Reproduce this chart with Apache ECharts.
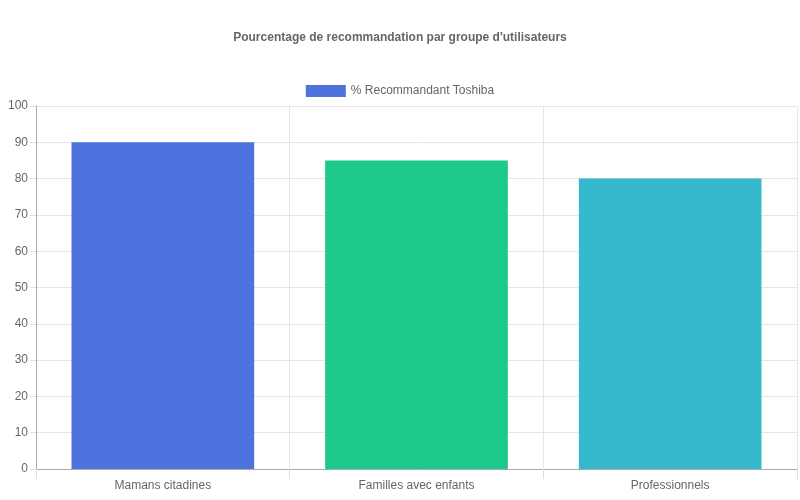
<!DOCTYPE html>
<html>
<head>
<meta charset="utf-8">
<script src="https://cdn.jsdelivr.net/npm/echarts@6/dist/echarts.min.js"></script>
<style>
  html, body { margin: 0; padding: 0; background: #fff; }
  #chart { width: 800px; height: 500px; }
</style>
</head>
<body>
<div id="chart"></div>
<script>
// données du graphique
const categories = ['Mamans citadines', 'Familles avec enfants', 'Professionnels'];
const values = [90, 85, 80];
const barColors = ['#4e73df', '#1cc88a', '#36b9cc'];
const seriesName = '% Recommandant Toshiba';
const chartTitle = "Pourcentage de recommandation par groupe d'utilisateurs";

const font = 'Liberation Sans, Arial, sans-serif';
const chart = echarts.init(document.getElementById('chart'));

const option = {
  animation: false,
  title: {
    text: chartTitle,
    left: 'center',
    top: 27,
    textStyle: { fontFamily: font, fontSize: 12, fontWeight: 'bold', color: '#666' }
  },
  legend: {
    top: 80,
    left: 'center',
    icon: 'rect',
    itemWidth: 40,
    itemHeight: 12,
    itemGap: 10,
    textStyle: { fontFamily: font, fontSize: 12, color: '#666' },
    data: [seriesName]
  },
  grid: { left: 36, right: 3, top: 106, bottom: 31, containLabel: false },
  xAxis: {
    type: 'category',
    data: categories,
    axisLine: { lineStyle: { color: '#aaa' } },
    axisTick: { show: true, length: 10, lineStyle: { color: '#ddd' } },
    axisLabel: { fontFamily: font, fontSize: 12, color: '#666', margin: 11 },
    splitLine: { show: true, lineStyle: { color: '#e5e5e5' } }
  },
  yAxis: {
    type: 'value',
    min: 0,
    max: 100,
    interval: 10,
    axisLine: { show: true, lineStyle: { color: '#aaa' } },
    axisTick: { show: true, length: 6, lineStyle: { color: '#ddd' } },
    axisLabel: { fontFamily: font, fontSize: 12, color: '#666', margin: 8 },
    splitLine: { show: true, lineStyle: { color: '#e5e5e5' } }
  },
  series: [{
    name: seriesName,
    type: 'bar',
    barCategoryGap: '28%',
    itemStyle: { color: barColors[0] },
    data: values.map((v, i) => ({ value: v, itemStyle: { color: barColors[i] } }))
  }]
};

chart.setOption(option);
</script>
</body>
</html>
